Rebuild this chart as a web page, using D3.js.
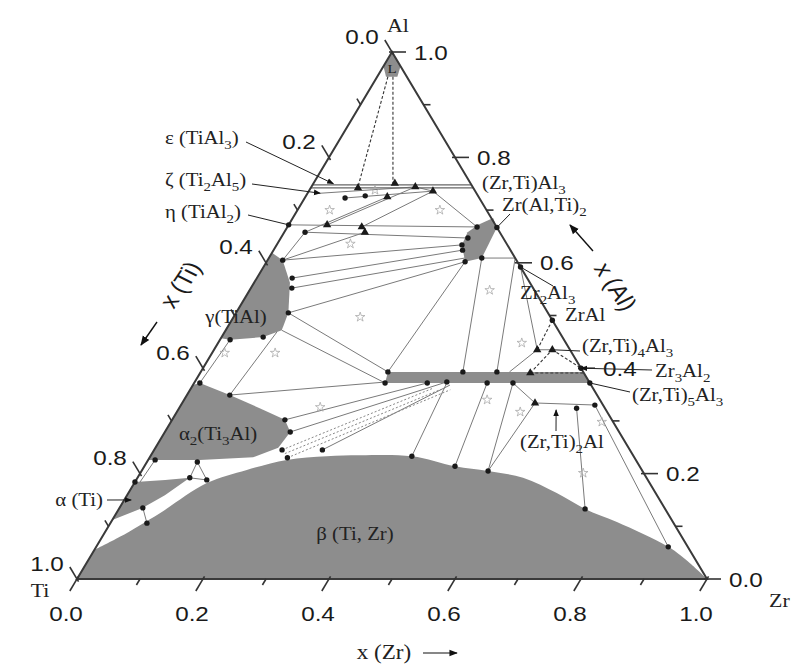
<!DOCTYPE html>
<html>
<head>
<meta charset="utf-8">
<script src="https://cdnjs.cloudflare.com/ajax/libs/d3/7.8.5/d3.min.js"></script>
<style>
	body { margin: 0; background: #fff; }
	svg text { font-family: "Liberation Serif", "Times New Roman", serif; fill: #222; }
	svg text.sans { font-family: "Liberation Sans", Arial, sans-serif; fill: #1a1a1a; }
</style>
</head>
<body>
<div id="chart"></div>
<script>
// compositions are [x(Zr), x(Al)], x(Ti) = 1 - both

var betaBoundary = [[0,0.055],[0.028,0.080],[0.069,0.125],[0.115,0.182],[0.166,0.207],[0.220,0.226],
	[0.280,0.233],[0.332,0.235],[0.415,0.233],[0.493,0.214],[0.550,0.205],[0.612,0.192],[0.680,0.163],
	[0.740,0.133],[0.803,0.108],[0.908,0.061],[0.958,0.030],[1,0]];
var alphaRegion = [[0,0.184],[0.046,0.188],[0.083,0.192],[0.060,0.159],[0.037,0.135],[0,0.112]];
var alpha2Region = [[0,0.368],[0.009,0.372],[0.068,0.349],[0.128,0.324],[0.179,0.302],[0.199,0.279],
	[0.195,0.249],[0.164,0.231],[0.082,0.226],[0,0.226]];
var gammaRegion = [[0,0.619],[0.024,0.605],[0.057,0.562],[0.083,0.505],[0.089,0.472],[0.066,0.459],[0.016,0.454],[0,0.457]];
var zrAl2Region = [[0.301,0.672],[0.318,0.685],[0.333,0.667],[0.338,0.609],[0.315,0.602],[0.294,0.634],[0.291,0.658]];
var zr5Al3Band = [[0.297,0.393],[0.607,0.393],[0.628,0.372],[0.303,0.372]];
var liquidRegion = [[0,1],[0,0.973],[0.014,0.953],[0.032,0.953],[0.027,0.973]];

var tiAl3Lines = [[[0,0.748],[0.252,0.748]], [[0,0.742],[0.258,0.742]]];

var tieLines = [
	[[0.020,0.732],[0.165,0.744]], [[0.064,0.723],[0.197,0.736]], [[0.061,0.672],[0.165,0.744]],
	[[0.033,0.658],[0.130,0.725]], [[0.118,0.668],[0.197,0.736]], [[0.197,0.736],[0.301,0.668]],
	[[0.165,0.744],[0.197,0.736]], [[0,0.672],[0.301,0.668]], [[0.033,0.658],[0.297,0.647]],
	[[0.033,0.658],[0.024,0.605]], [[0.024,0.605],[0.128,0.658]],
	[[0.024,0.605],[0.294,0.634]], [[0.056,0.571],[0.300,0.624]], [[0.065,0.552],[0.311,0.609]],
	[[0.083,0.505],[0.315,0.602]], [[0.083,0.505],[0.297,0.393]], [[0.089,0.472],[0.303,0.372]],
	[[0.315,0.602],[0.297,0.393]], [[0.338,0.609],[0.416,0.393]], [[0.391,0.609],[0.470,0.393]],
	[[0.408,0.592],[0.513,0.435]], [[0.513,0.435],[0.490,0.393]], [[0.513,0.435],[0.537,0.435]],
	[[0.338,0.609],[0.391,0.609]],
	[[0.068,0.349],[0.305,0.374]], [[0.068,0.349],[0.083,0.469]], [[0.016,0.454],[0.009,0.372]],
	[[0.179,0.302],[0.370,0.372]], [[0.199,0.279],[0.400,0.374]], [[0.267,0.245],[0.408,0.368]],
	[[0.415,0.233],[0.401,0.372]], [[0.493,0.214],[0.465,0.372]], [[0.550,0.205],[0.506,0.372]],
	[[0.506,0.372],[0.560,0.334]], [[0.560,0.334],[0.550,0.205]], [[0.560,0.334],[0.660,0.330]],
	[[0.631,0.324],[0.740,0.133]], [[0.657,0.330],[0.908,0.061]],
	[[0.080,0.222],[0.083,0.192]], [[0.080,0.222],[0.112,0.188]], [[0.083,0.192],[0.112,0.188]],
	[[0.037,0.135],[0.058,0.106]], [[0.011,0.226],[0.008,0.184]]
];

var dashedLines = [
	[[0.017,0.953],[0.074,0.744]], [[0.025,0.953],[0.126,0.751]],
	[[0.509,0.491],[0.513,0.435]], [[0.524,0.391],[0.537,0.435]],
	[[0.537,0.435],[0.600,0.400]], [[0.524,0.391],[0.609,0.391]]
];

var dottedLines = [
	[[0.203,0.245],[0.384,0.362]], [[0.211,0.238],[0.398,0.360]], [[0.219,0.230],[0.413,0.359]]
];

var dots = [
	[0.064,0.723],[0.094,0.727],[0,0.672],[0.033,0.658],[0.301,0.668],[0.297,0.647],[0.333,0.667],
	[0.024,0.605],[0.056,0.571],[0.065,0.552],[0.083,0.505],[0.066,0.459],[0.016,0.454],
	[0.294,0.634],[0.300,0.624],[0.315,0.602],[0.338,0.609],[0.408,0.592],[0.509,0.491],
	[0.600,0.400],[0.628,0.372],[0.297,0.393],[0.303,0.372],[0.370,0.372],[0.400,0.374],
	[0.416,0.393],[0.465,0.372],[0.470,0.393],[0.506,0.372],
	[0.009,0.372],[0.068,0.349],[0.179,0.302],[0.199,0.279],
	[0.080,0.222],[0.083,0.192],[0.112,0.188],[0,0.184],[0.037,0.135],[0.058,0.106],
	[0.267,0.245],[0.203,0.245],[0.219,0.230],
	[0.415,0.233],[0.493,0.214],[0.550,0.205],[0.740,0.133],[0.908,0.061],
	[0.631,0.324],[0.657,0.330],[0.011,0.226]
];

var triangles = [[0.075,0.742],[0.130,0.725],[0.129,0.751],[0.165,0.744],[0.197,0.736],[0.061,0.672],
	[0.118,0.668],[0.128,0.658],[0.537,0.435],[0.524,0.391],[0.513,0.435],[0.560,0.334]];

var stars = [[0.104,0.738],[0.226,0.700],[0.201,0.497],[0.100,0.429],[0.020,0.429],[0.381,0.548],
	[0.482,0.448],[0.223,0.326],[0.545,0.317],[0.481,0.340],[0.684,0.298],[0.703,0.201],[0.051,0.700],[0.116,0.636]];

var tickValues = [0,0.1,0.2,0.3,0.4,0.5,0.6,0.7,0.8,0.9,1.0];

var phaseNames = ['ε (TiAl_3)','ζ (Ti_2Al_5)','η (TiAl_2)','γ(TiAl)','α_2(Ti_3Al)','α (Ti)','β (Ti, Zr)','L',
	'(Zr,Ti)Al_3','Zr(Al,Ti)_2','Zr_2Al_3','ZrAl','(Zr,Ti)_4Al_3','Zr_3Al_2','(Zr,Ti)_5Al_3','(Zr,Ti)_2Al'];
// where each leader line ends, by phase
var leaderTargets = {
	'ε (TiAl_3)': [0.032,0.750], 'ζ (Ti_2Al_5)': [0.020,0.732], 'η (TiAl_2)': [0,0.672],
	'Zr(Al,Ti)_2': [0.333,0.667], 'Zr_2Al_3': [0.408,0.592], '(Zr,Ti)_4Al_3': [0.537,0.435],
	'Zr_3Al_2': [0.600,0.400], '(Zr,Ti)_5Al_3': [0.628,0.372], '(Zr,Ti)_2Al': [0.600,0.321], 'α (Ti)': [0.011,0.150]
};

var options = {
	w: 792,
	h: 666,
	corners: { left: 77, right: 707, bottom: 579, top: 52 },
	stretch: 1.155,   // the picture is wider than an equilateral triangle, so is its lettering
	regionFill: '#8d8d8d',
	// label layout in pixels: x, y (middle), anchor, size; leader start
	labels: {
		'ε (TiAl_3)':   { x: 165, y: 138, a: 'start', fs: 18, from: [246,142], arrow: true },
		'ζ (Ti_2Al_5)': { x: 165, y: 180, a: 'start', fs: 18, from: [252,184], arrow: true },
		'η (TiAl_2)':   { x: 165, y: 212, a: 'start', fs: 18, from: [248,215] },
		'γ(TiAl)':      { x: 236, y: 317, a: 'middle', fs: 18 },
		'α_2(Ti_3Al)':  { x: 218, y: 434, a: 'middle', fs: 18 },
		'α (Ti)':       { x: 103, y: 500, a: 'end', fs: 18, from: [107,500], arrow: true },
		'β (Ti, Zr)':   { x: 355, y: 534, a: 'middle', fs: 18 },
		'L':            { x: 392, y: 69, a: 'middle', fs: 13 },
		'(Zr,Ti)Al_3':  { x: 482, y: 183, a: 'start', fs: 18 },
		'Zr(Al,Ti)_2':  { x: 502, y: 205, a: 'start', fs: 18, from: [510,214] },
		'Zr_2Al_3':     { x: 520, y: 293, a: 'start', fs: 18, from: [553,286] },
		'ZrAl':         { x: 565, y: 315, a: 'start', fs: 18 },
		'(Zr,Ti)_4Al_3':{ x: 582, y: 346, a: 'start', fs: 18, from: [580,351] },
		'Zr_3Al_2':     { x: 655, y: 371, a: 'start', fs: 18, from: [652,370], arrow: true },
		'(Zr,Ti)_5Al_3':{ x: 632, y: 395, a: 'start', fs: 18, from: [630,392] },
		'(Zr,Ti)_2Al':  { x: 520, y: 442, a: 'start', fs: 18, from: [556,431], arrow: true }
	}
};

var xScale = d3.scaleLinear().domain([0,1]).range([options.corners.left, options.corners.right]);
var yScale = d3.scaleLinear().domain([0,1]).range([options.corners.bottom, options.corners.top]);

function pos(p){
	return [xScale(p[0] + p[1] / 2), yScale(p[1])];
}
function unit(a, b){
	var dx = b[0] - a[0], dy = b[1] - a[1], l = Math.sqrt(dx*dx + dy*dy);
	return [dx / l, dy / l];
}
function stretched(x, y){
	return 'translate(' + x + ',' + y + ') scale(' + options.stretch + ',1)';
}

// subscripts are written as _3 in the names
function richText(sel, str, fs){
	var shift = 0;
	str.split(/(_\d+)/).forEach(function(s){
		if (!s) return;
		var sub = s[0] === '_';
		var d = (sub ? 5 : 0) - shift;
		shift = sub ? 5 : 0;
		sel.append('tspan')
			.attr('dy', d)
			.attr('font-size', sub ? fs * 0.72 : null)
			.text(sub ? s.slice(1) : s);
	});
}

var svg = d3.select('#chart').append('svg')
	.attr('width', options.w)
	.attr('height', options.h);

svg.append('defs').append('marker')
	.attr('id', 'arr')
	.attr('viewBox', '0 0 10 10')
	.attr('refX', 9).attr('refY', 5)
	.attr('markerWidth', 7).attr('markerHeight', 7)
	.attr('orient', 'auto')
	.append('path').attr('d', 'M0,1L10,5L0,9z').attr('fill', '#111');

var line = d3.line();

// gray phase fields
svg.append('path')
	.attr('d', d3.line().curve(d3.curveCatmullRom)(betaBoundary.map(pos)) + 'L' + pos([0,0]) + 'Z')
	.attr('fill', options.regionFill);

svg.selectAll('path.region')
	.data([alphaRegion, alpha2Region, gammaRegion, zrAl2Region, zr5Al3Band, liquidRegion])
	.enter().append('path')
	.attr('class', 'region')
	.attr('d', function(d){ return line(d.map(pos)) + 'Z'; })
	.attr('fill', options.regionFill);

// tie lines
svg.selectAll('path.tie')
	.data(tieLines)
	.enter().append('path')
	.attr('class', 'tie')
	.attr('d', function(d){ return line(d.map(pos)); })
	.attr('stroke', '#7a7a7a').attr('stroke-width', 1).attr('fill', 'none');

svg.selectAll('path.tial3')
	.data(tiAl3Lines)
	.enter().append('path')
	.attr('class', 'tial3')
	.attr('d', function(d){ return line(d.map(pos)); })
	.attr('stroke', '#666').attr('stroke-width', 1.2).attr('fill', 'none');

svg.selectAll('path.dotted')
	.data(dottedLines)
	.enter().append('path')
	.attr('class', 'dotted')
	.attr('d', function(d){ return line(d.map(pos)); })
	.attr('stroke', '#888').attr('stroke-width', 1).attr('stroke-dasharray', '2,2').attr('fill', 'none');

svg.selectAll('path.dashed')
	.data(dashedLines)
	.enter().append('path')
	.attr('class', 'dashed')
	.attr('d', function(d){ return line(d.map(pos)); })
	.attr('stroke', '#333').attr('stroke-width', 1.1).attr('stroke-dasharray', '3,2').attr('fill', 'none');

// triangle frame
svg.append('path')
	.attr('d', line([[0,0],[1,0],[0,1]].map(pos)) + 'Z')
	.attr('fill', 'none').attr('stroke', '#3a3a3a').attr('stroke-width', 2);

// axes: ticks point outwards along the grid direction
var axes = [
	{ point: function(t){ return [t, 0]; }, dir: unit(pos([0,1]), pos([0,0])), off: [-11, 34], anchor: 'middle' },
	{ point: function(t){ return [0, 1 - t]; }, dir: unit(pos([1,0]), pos([0,1])), off: [-30, -16], anchor: 'middle' },
	{ point: function(t){ return [1 - t, t]; }, dir: [1, 0], off: [22, 0], anchor: 'start' }
];
var fmt = d3.format('.1f');

axes.forEach(function(ax){
	var g = svg.append('g');
	tickValues.forEach(function(t){
		var p = pos(ax.point(t)), major = Math.round(t * 10) % 2 === 0;
		var a = major ? -3 : 0, b = major ? 14 : 7;
		g.append('line')
			.attr('x1', p[0] + ax.dir[0] * a).attr('y1', p[1] + ax.dir[1] * a)
			.attr('x2', p[0] + ax.dir[0] * b).attr('y2', p[1] + ax.dir[1] * b)
			.attr('stroke', '#333').attr('stroke-width', 1.6);
		if (major) {
			g.append('text')
				.attr('class', 'sans')
				.attr('transform', stretched(p[0] + ax.off[0], p[1] + ax.off[1] + 7.5))
				.attr('text-anchor', ax.anchor)
				.attr('font-size', 21)
				.text(fmt(t));
		}
	});
});

// markers
svg.selectAll('path.star')
	.data(stars)
	.enter().append('path')
	.attr('class', 'star')
	.attr('transform', function(d){ return 'translate(' + pos(d) + ')'; })
	.attr('d', d3.symbol().type(d3.symbolStar).size(28))
	.attr('fill', 'none').attr('stroke', '#aaa').attr('stroke-width', 0.8);

svg.selectAll('circle.dot')
	.data(dots)
	.enter().append('circle')
	.attr('class', 'dot')
	.attr('cx', function(d){ return pos(d)[0]; })
	.attr('cy', function(d){ return pos(d)[1]; })
	.attr('r', 2.7)
	.attr('fill', '#1a1a1a');

svg.selectAll('path.tri')
	.data(triangles)
	.enter().append('path')
	.attr('class', 'tri')
	.attr('transform', function(d){ return 'translate(' + pos(d) + ')'; })
	.attr('d', d3.symbol().type(d3.symbolTriangle).size(30))
	.attr('fill', '#1a1a1a');

// labels and leader lines
phaseNames.forEach(function(name){
	var L = options.labels[name];
	if (L.from) {
		var to = pos(leaderTargets[name]);
		svg.append('line')
			.attr('x1', L.from[0]).attr('y1', L.from[1])
			.attr('x2', to[0]).attr('y2', to[1])
			.attr('stroke', '#222').attr('stroke-width', 1)
			.attr('marker-end', L.arrow ? 'url(#arr)' : null);
	}
	var t = svg.append('text')
		.attr('transform', stretched(L.x, L.y + L.fs * 0.33))
		.attr('text-anchor', L.a)
		.attr('font-size', L.fs);
	richText(t, name, L.fs);
});

// corner names
svg.append('text').attr('transform', stretched(398, 32)).attr('text-anchor', 'middle').attr('font-size', 19).text('Al');
svg.append('text').attr('transform', stretched(40, 597)).attr('text-anchor', 'middle').attr('font-size', 19).text('Ti');
svg.append('text').attr('transform', stretched(769, 607)).attr('font-size', 19).text('Zr');

// axis titles
svg.append('text')
	.attr('transform', stretched(384, 659))
	.attr('text-anchor', 'middle').attr('font-size', 20)
	.text('x (Zr)');
svg.append('line')
	.attr('x1', 423).attr('y1', 653).attr('x2', 457).attr('y2', 653)
	.attr('stroke', '#111').attr('stroke-width', 1.2).attr('marker-end', 'url(#arr)');

svg.append('text')
	.attr('class', 'sans')
	.attr('transform', stretched(181, 285) + ' rotate(-60)')
	.attr('text-anchor', 'middle').attr('dy', 7).attr('font-size', 22)
	.text('x (Ti)');
svg.append('line')
	.attr('x1', 157).attr('y1', 322).attr('x2', 141).attr('y2', 345)
	.attr('stroke', '#111').attr('stroke-width', 1.4).attr('marker-end', 'url(#arr)');

svg.append('text')
	.attr('class', 'sans')
	.attr('transform', stretched(615, 287) + ' rotate(60)')
	.attr('text-anchor', 'middle').attr('dy', 7).attr('font-size', 22)
	.text('x (Al)');
svg.append('line')
	.attr('x1', 593).attr('y1', 251).attr('x2', 570).attr('y2', 225)
	.attr('stroke', '#111').attr('stroke-width', 1.4).attr('marker-end', 'url(#arr)');
</script>
</body>
</html>
